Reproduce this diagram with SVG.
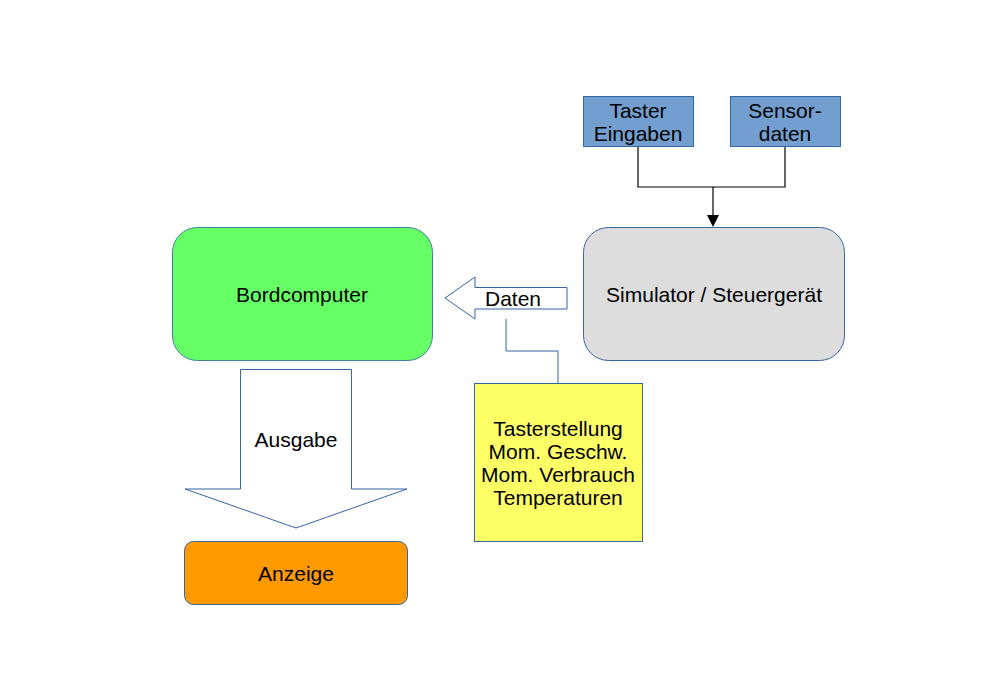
<svg xmlns="http://www.w3.org/2000/svg" width="982" height="694" viewBox="0 0 982 694">
<defs>
<style>
text{font-family:"Liberation Sans",Arial,sans-serif;font-size:21px;fill:#000;text-anchor:middle;dominant-baseline:central}
.blue{fill:#729fcf;stroke:#3465a4;stroke-width:1}
.outl{fill:#fff;stroke:#3465a4;stroke-width:1}
.line{fill:none;stroke:#000;stroke-width:1.2}
.bl{fill:none;stroke:#3465a4;stroke-width:1}
</style>
</defs>
<rect width="982" height="694" fill="#fff"/>
<g id="connectors">
<path class="line" d="M638,147 V187 H785 V147"/>
<path class="line" d="M713,187 V218"/>
<path d="M707,215 L719,215 L713,227 Z" fill="#000"/>
<path class="bl" d="M506,319 V351 H558 V383"/>
</g>
<g id="taster">
<rect class="blue" x="583.5" y="96.5" width="110" height="50"/>
<text x="638" y="110">Taster</text>
<text x="638" y="133">Eingaben</text>
</g>
<g id="sensor">
<rect class="blue" x="730.5" y="96.5" width="110" height="50"/>
<text x="785" y="110">Sensor-</text>
<text x="785" y="133">daten</text>
</g>
<g id="bordcomputer">
<rect x="172.5" y="227.5" width="260" height="133" rx="25" fill="#66ff66" stroke="#3f7f9f"/>
<text x="302" y="294">Bordcomputer</text>
</g>
<g id="simulator">
<rect x="583.5" y="227.5" width="261" height="133" rx="25" fill="#dddddd" stroke="#3465a4"/>
<text x="714" y="294">Simulator / Steuergerät</text>
</g>
<g id="daten">
<path class="outl" d="M445,298 L475,277 V287.5 H567 V309 H475 V319 Z"/>
<text x="513" y="298">Daten</text>
</g>
<g id="info">
<rect x="474.5" y="383.5" width="168" height="158" fill="#ffff66" stroke="#3465a4"/>
<text x="558" y="428">Tasterstellung</text>
<text x="558" y="451">Mom. Geschw.</text>
<text x="558" y="474">Mom. Verbrauch</text>
<text x="558" y="497">Temperaturen</text>
</g>
<g id="ausgabe">
<path class="outl" d="M240.5,369.5 H351.5 V489 H407 L296,528 L185,489 H240.5 Z"/>
<text x="296" y="439">Ausgabe</text>
</g>
<g id="anzeige">
<rect x="184.5" y="541.5" width="223" height="63" rx="9" fill="#ff9900" stroke="#3465a4"/>
<text x="296" y="573">Anzeige</text>
</g>
</svg>
